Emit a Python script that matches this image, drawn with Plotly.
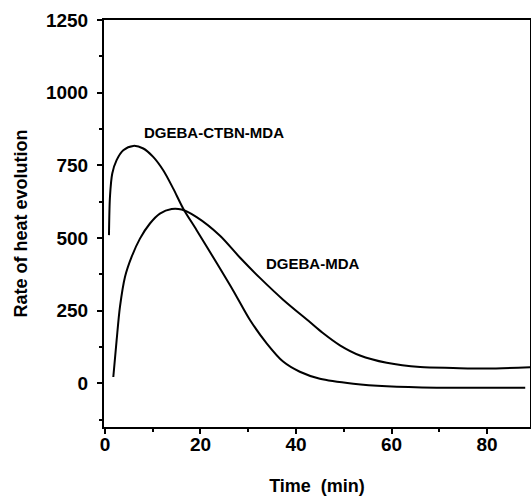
import plotly.graph_objects as go

# DGEBA-CTBN-MDA
t_ctbn = [0.84, 1.05, 1.53, 2.44, 3.84, 5.93, 8.03, 10.1, 12.2, 14.3, 16.4, 19.2, 23.4, 26.9, 30.4, 33.9, 37.3, 40.8, 45.0, 52.0, 59.0, 69.5, 79.9, 88.0]
v_ctbn = [510, 642, 722, 768, 802, 817, 808, 779, 733, 670, 601, 527, 414, 318, 217, 137, 75, 40, 16, -1, -10, -15, -15, -15]

# DGEBA-MDA
t_mda = [1.75, 2.44, 3.14, 4.19, 5.58, 7.33, 9.42, 11.5, 13.96, 16.06, 19.2, 24.1, 28.3, 32.5, 37.3, 42.9, 45.5, 49.2, 53.4, 59.0, 66.0, 72.9, 79.9, 89.5]
v_mda = [22, 148, 263, 366, 435, 498, 550, 584, 600, 598, 572, 508, 432, 362, 288, 211, 175, 131, 96, 71, 56, 53, 51, 56]

x_ticks = [0, 20, 40, 60, 80]
y_ticks = [0, 250, 500, 750, 1000, 1250]

FONT = "Liberation Sans, Arial, sans-serif"

fig = go.Figure()
fig.add_trace(go.Scatter(x=t_ctbn, y=v_ctbn, mode="lines", line=dict(color="black", width=2, shape="spline", smoothing=0.8), showlegend=False))
fig.add_trace(go.Scatter(x=t_mda, y=v_mda, mode="lines", line=dict(color="black", width=2, shape="spline", smoothing=0.8), showlegend=False))

fig.add_annotation(x=22.8, y=864, text="<b>DGEBA-CTBN-MDA</b>", showarrow=False, font=dict(size=15, color="black", family=FONT))
fig.add_annotation(x=43.4, y=413, text="<b>DGEBA-MDA</b>", showarrow=False, font=dict(size=15, color="black", family=FONT))

fig.update_layout(
    width=531, height=497,
    margin=dict(l=104, r=1, t=20, b=70),
    paper_bgcolor="white", plot_bgcolor="white",
    font=dict(family=FONT, color="black"),
)
fig.update_xaxes(
    range=[-0.2, 89], tickvals=x_ticks, ticktext=[f"<b>{v}</b>" for v in x_ticks],
    showgrid=False, zeroline=False, showline=True, linecolor="black", linewidth=2, mirror=True,
    ticks="outside", ticklen=5, tickwidth=2, tickcolor="black",
    minor=dict(dtick=10, tick0=0, ticks="outside", ticklen=3, tickwidth=1.5, tickcolor="black"),
    tickfont=dict(size=19, family=FONT), automargin=False, ticklabelstandoff=-6,
    title=dict(text="<b>Time&nbsp; (min)</b>", font=dict(size=18, family=FONT), standoff=26),
)
fig.update_yaxes(
    range=[-150, 1250], tickvals=y_ticks, ticktext=[f"<b>{v}</b>" for v in y_ticks],
    showgrid=False, zeroline=False, showline=True, linecolor="black", linewidth=2, mirror=True,
    ticks="outside", ticklen=5, tickwidth=2, tickcolor="black",
    minor=dict(dtick=125, tick0=0, ticks="outside", ticklen=3, tickwidth=1.5, tickcolor="black"),
    tickfont=dict(size=19, family=FONT), automargin=False, ticklabelstandoff=5,
    title=dict(text="<b>Rate of heat evolution</b>", font=dict(size=18, family=FONT), standoff=14),
)

fig.write_html(
    "out.html",
    config={"displayModeBar": False},
    post_script="document.body.style.margin='0';document.body.style.overflow='hidden';",
)
